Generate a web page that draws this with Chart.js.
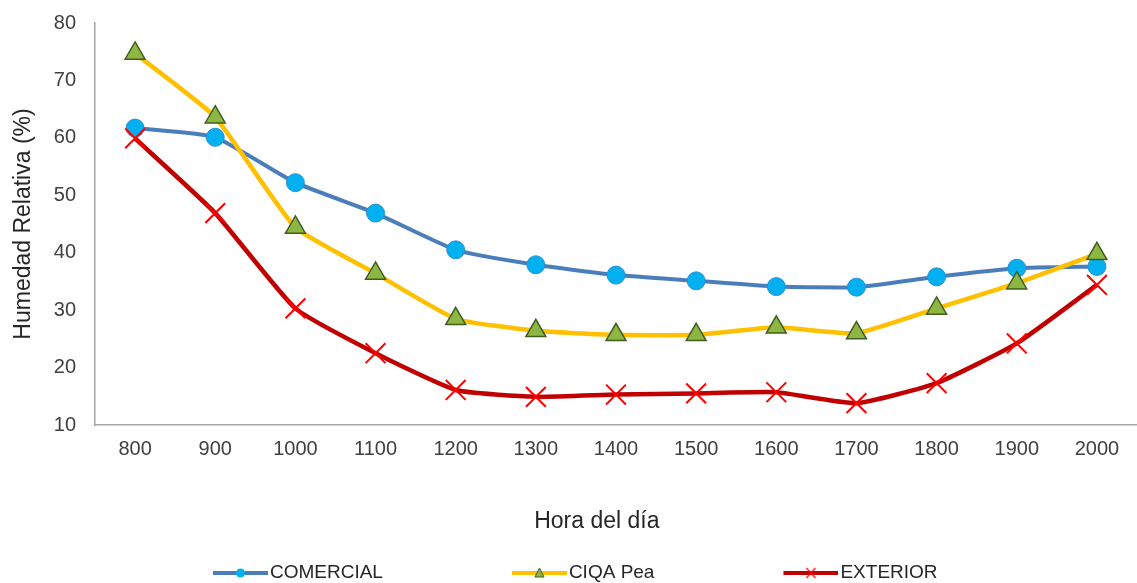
<!DOCTYPE html>
<html>
<head>
<meta charset="utf-8">
<script src="https://cdn.jsdelivr.net/npm/chart.js@4.4.1/dist/chart.umd.min.js"></script>
<style>
  html, body { margin: 0; padding: 0; background: #ffffff; overflow: hidden; }
  #wrap { width: 1137px; height: 583px; }
  #chart { display: block; width: 1137px; height: 583px; }
</style>
</head>
<body>
<div id="wrap"><canvas id="chart" width="1137" height="583"></canvas></div>
<script>
// Hour of day (categories)
const horas = ['800', '900', '1000', '1100', '1200', '1300', '1400', '1500', '1600', '1700', '1800', '1900', '2000'];

// Relative humidity (%) per treatment
const comercial = [61.7, 60.1, 52.2, 46.9, 40.5, 37.9, 36.1, 35.1, 34.1, 34.0, 35.8, 37.3, 37.6];
const ciqaPea   = [74.7, 63.6, 44.4, 36.4, 28.5, 26.4, 25.7, 25.7, 27.0, 26.0, 30.3, 34.7, 39.8];
const exterior  = [59.9, 46.9, 30.3, 22.5, 16.1, 14.9, 15.3, 15.5, 15.7, 13.8, 17.3, 24.2, 34.4];

// Y axis range
const yMin = 10;
const yMax = 80;
const yStep = 10;

const FONT = "'Liberation Sans', Arial, sans-serif";

// The legend is a full-width bottom box; the left page margin is pulled
// outward so the centred row of legend items sits under the plot's left half.
const LEFT_PAD = -114;
const PLOT_LEFT = 95;

// Legend swatches: a short line with the series marker in the middle
const LEGEND_BOX = 175;
function legendIcon(lineColor, drawMarker) {
  const c = document.createElement('canvas');
  c.width = LEGEND_BOX + 15;
  c.height = 14;
  const g = c.getContext('2d');
  const x1 = c.width - 55, x2 = c.width, cy = 7;
  g.strokeStyle = lineColor;
  g.lineWidth = 4;
  g.beginPath(); g.moveTo(x1, cy); g.lineTo(x2, cy); g.stroke();
  drawMarker(g, (x1 + x2) / 2, cy);
  return c;
}
const iconComercial = legendIcon('#4A7EBB', (g, x, y) => {
  g.fillStyle = '#00B0F0';
  g.beginPath(); g.arc(x, y, 4.5, 0, Math.PI * 2); g.fill();
});
const iconCiqa = legendIcon('#FFC000', (g, x, y) => {
  g.fillStyle = '#8DB742'; g.strokeStyle = '#3F5F1E'; g.lineWidth = 1;
  g.beginPath(); g.moveTo(x, y - 5); g.lineTo(x + 4.5, y + 4); g.lineTo(x - 4.5, y + 4); g.closePath();
  g.fill(); g.stroke();
});
const iconExterior = legendIcon('#C00000', (g, x, y) => {
  g.strokeStyle = '#FF0000'; g.lineWidth = 1.2;
  g.beginPath();
  g.moveTo(x - 4.5, y - 5); g.lineTo(x + 4.5, y + 5);
  g.moveTo(x + 4.5, y - 5); g.lineTo(x - 4.5, y + 5);
  g.stroke();
});
const legendIcons = [iconComercial, iconCiqa, iconExterior];

new Chart(document.getElementById('chart'), {
  type: 'line',
  data: {
    labels: horas,
    datasets: [
      {
        label: 'COMERCIAL',
        data: comercial,
        borderColor: '#4A7EBB',
        borderWidth: 4,
        tension: 0.15,
        pointStyle: 'circle',
        pointRadius: 9,
        pointBackgroundColor: '#00B0F0',
        pointBorderColor: '#2C8FD0',
        pointBorderWidth: 1,
        order: 3
      },
      {
        label: 'CIQA Pea',
        data: ciqaPea,
        borderColor: '#FFC000',
        borderWidth: 4.5,
        tension: 0.15,
        pointStyle: 'triangle',
        pointRadius: 11.5,
        pointBackgroundColor: '#8DB742',
        pointBorderColor: '#3F5F1E',
        pointBorderWidth: 1.5,
        order: 2
      },
      {
        label: 'EXTERIOR',
        data: exterior,
        borderColor: '#C00000',
        borderWidth: 4.5,
        tension: 0.15,
        pointStyle: 'crossRot',
        pointRadius: 14,
        pointBorderColor: '#FF0000',
        pointBorderWidth: 2,
        order: 1
      }
    ]
  },
  options: {
    responsive: false,
    animation: false,
    devicePixelRatio: 1,
    layout: {
      autoPadding: false,
      padding: { left: LEFT_PAD, top: 23, right: 0, bottom: 0 }
    },
    scales: {
      x: {
        type: 'category',
        offset: true,
        grid: { display: false, drawTicks: false },
        border: { display: true, color: '#A6A6A6', width: 1.5 },
        ticks: {
          color: '#404040',
          font: { family: FONT, size: 20 },
          padding: 12,
          maxRotation: 0,
          autoSkip: false
        },
        title: {
          display: true,
          // trailing spaces nudge the centred title slightly left of the plot centre
          text: 'Hora del día      ',
          color: '#262626',
          font: { family: FONT, size: 23 },
          padding: { top: 0, bottom: 27 }
        },
        afterFit(scale) {
          scale.height = 137;
          scale.paddingLeft = 0;
          scale.paddingRight = 0;
        }
      },
      y: {
        min: yMin,
        max: yMax,
        grid: { display: false, drawTicks: false },
        border: { display: true, color: '#A6A6A6', width: 1.5 },
        ticks: {
          stepSize: yStep,
          color: '#404040',
          font: { family: FONT, size: 20 },
          padding: 19
        },
        title: {
          display: true,
          text: 'Humedad Relativa (%)',
          color: '#262626',
          font: { family: FONT, size: 23 },
          padding: { top: 24 - LEFT_PAD - 13.8, bottom: 0 }
        },
        afterFit(scale) {
          scale.width = PLOT_LEFT - LEFT_PAD;
          scale.paddingTop = 0;
          scale.paddingBottom = 0;
        }
      }
    },
    plugins: {
      tooltip: { enabled: false },
      legend: {
        position: 'bottom',
        align: 'center',
        maxHeight: 21,
        labels: {
          usePointStyle: true,
          pointStyleWidth: LEGEND_BOX,
          padding: 1.5,
          color: '#262626',
          font: { family: FONT, size: 19 },
          generateLabels(chart) {
            return chart.data.datasets.map((ds, i) => ({
              text: ds.label,
              pointStyle: legendIcons[i],
              fillStyle: 'rgba(0,0,0,0)',
              strokeStyle: 'rgba(0,0,0,0)',
              lineWidth: 0,
              fontColor: '#262626',
              hidden: false,
              datasetIndex: i
            }));
          }
        }
      }
    }
  }
});
</script>
</body>
</html>
